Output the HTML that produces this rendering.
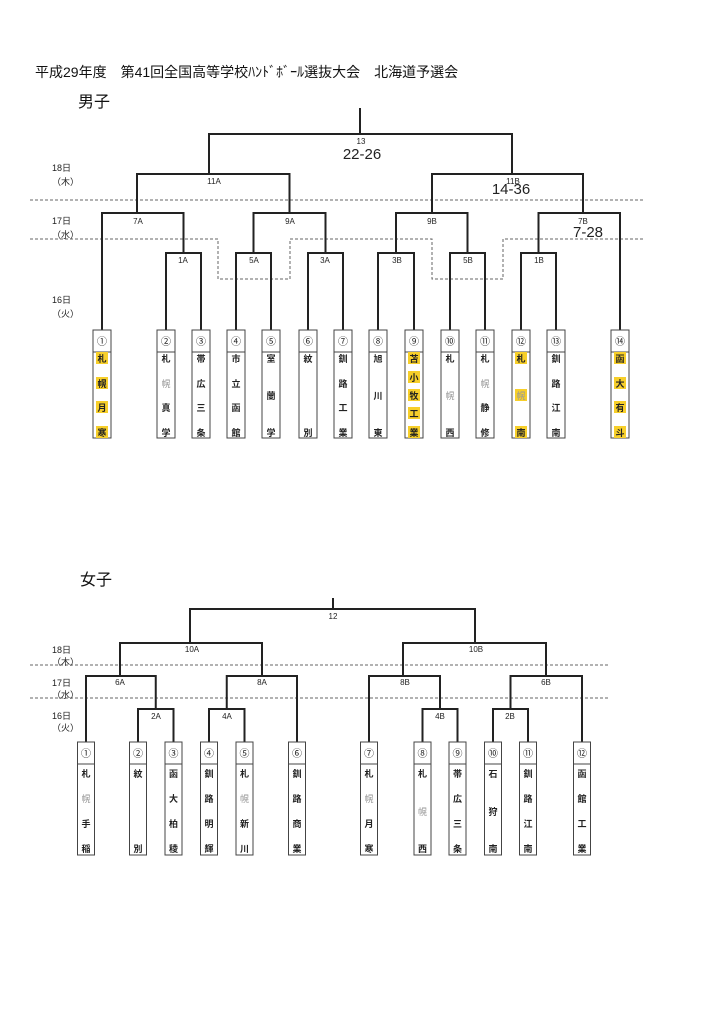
<!DOCTYPE html>
<html><head><meta charset="utf-8"><style>
html,body{margin:0;padding:0;background:#fff;}
svg{display:block;font-family:"Liberation Sans","Noto Sans CJK JP",sans-serif;}
.l{fill:none;stroke:#222;stroke-width:2;}
.d{fill:none;stroke:#666;stroke-width:1;stroke-dasharray:3,2;}
.b{fill:#fff;stroke:#444;stroke-width:1;}
.n{font-size:10px;text-anchor:middle;fill:#222;}
.c{font-size:9px;font-weight:bold;text-anchor:middle;fill:#222;}
.g{fill:#999;font-weight:normal;}
.s{font-size:8px;text-anchor:middle;fill:#222;}
.big{font-size:15px;text-anchor:middle;fill:#222;}
.day{font-size:9px;fill:#222;}
.hl{fill:#f7cf2a;}
</style></head><body>
<svg width="724" height="1024" viewBox="0 0 724 1024">
<text x="35" y="77" font-size="14" fill="#111">平成29年度　第41回全国高等学校ﾊﾝﾄﾞﾎﾞｰﾙ選抜大会　北海道予選会</text>
<text x="78" y="107" font-size="16" fill="#111">男子</text>

<!-- men dashed -->
<path class="d" d="M30 200 H645"/>
<path class="d" d="M30 239 H218 V279 H290 V239 H432 V279 H503 V239 H645"/>

<!-- men brackets -->
<path class="l" d="M166 330 V253 H201 V330"/>
<path class="l" d="M236 330 V253 H271 V330"/>
<path class="l" d="M308 330 V253 H343 V330"/>
<path class="l" d="M378 330 V253 H414 V330"/>
<path class="l" d="M450 330 V253 H485 V330"/>
<path class="l" d="M521 330 V253 H556 V330"/>
<path class="l" d="M102 330 V213 H183.5 V253"/>
<path class="l" d="M253.5 253 V213 H325.5 V253"/>
<path class="l" d="M396 253 V213 H467.5 V253"/>
<path class="l" d="M538.5 253 V213 H620 V330"/>
<path class="l" d="M137 213 V174 H289.5 V213"/>
<path class="l" d="M432 213 V174 H583 V213"/>
<path class="l" d="M209 174 V134 H512 V174"/>
<path class="l" d="M360 134 V108"/>

<text class="s" x="361" y="144">13</text>
<text class="big" x="362" y="159">22-26</text>
<text class="s" x="214" y="184">11A</text>
<text class="s" x="513" y="184">11B</text>
<text class="big" x="511" y="194">14-36</text>
<text class="s" x="138" y="224">7A</text>
<text class="s" x="290" y="224">9A</text>
<text class="s" x="432" y="224">9B</text>
<text class="s" x="583" y="224">7B</text>
<text class="big" x="588" y="237">7-28</text>
<text class="s" x="183" y="263">1A</text>
<text class="s" x="254" y="263">5A</text>
<text class="s" x="325" y="263">3A</text>
<text class="s" x="397" y="263">3B</text>
<text class="s" x="468" y="263">5B</text>
<text class="s" x="539" y="263">1B</text>

<text class="day" x="52" y="171">18日</text><text class="day" x="52" y="185">（木）</text>
<text class="day" x="52" y="224">17日</text><text class="day" x="52" y="238">（水）</text>
<text class="day" x="52" y="303">16日</text><text class="day" x="52" y="317">（火）</text>

<!-- men boxes -->
<g>
<rect class="b" x="93" y="330" width="18" height="108"/><line class="b" x1="93" y1="352" x2="111" y2="352"/><text class="n" x="102" y="345">①</text>
<rect class="hl" x="96" y="352" width="12" height="12"/><rect class="hl" x="96" y="377" width="12" height="12"/><rect class="hl" x="96" y="401" width="12" height="12"/><rect class="hl" x="96" y="426" width="12" height="12"/>
<text class="c" x="102" y="362">札</text><text class="c" x="102" y="387">幌</text><text class="c" x="102" y="411">月</text><text class="c" x="102" y="436">寒</text>

<rect class="b" x="157" y="330" width="18" height="108"/><line class="b" x1="157" y1="352" x2="175" y2="352"/><text class="n" x="166" y="345">②</text>
<text class="c" x="166" y="362">札</text><text class="c g" x="166" y="387">幌</text><text class="c" x="166" y="411">真</text><text class="c" x="166" y="436">学</text>

<rect class="b" x="192" y="330" width="18" height="108"/><line class="b" x1="192" y1="352" x2="210" y2="352"/><text class="n" x="201" y="345">③</text>
<text class="c" x="201" y="362">帯</text><text class="c" x="201" y="387">広</text><text class="c" x="201" y="411">三</text><text class="c" x="201" y="436">条</text>

<rect class="b" x="227" y="330" width="18" height="108"/><line class="b" x1="227" y1="352" x2="245" y2="352"/><text class="n" x="236" y="345">④</text>
<text class="c" x="236" y="362">市</text><text class="c" x="236" y="387">立</text><text class="c" x="236" y="411">函</text><text class="c" x="236" y="436">館</text>

<rect class="b" x="262" y="330" width="18" height="108"/><line class="b" x1="262" y1="352" x2="280" y2="352"/><text class="n" x="271" y="345">⑤</text>
<text class="c" x="271" y="362">室</text><text class="c" x="271" y="399">蘭</text><text class="c" x="271" y="436">学</text>

<rect class="b" x="299" y="330" width="18" height="108"/><line class="b" x1="299" y1="352" x2="317" y2="352"/><text class="n" x="308" y="345">⑥</text>
<text class="c" x="308" y="362">紋</text><text class="c" x="308" y="436">別</text>

<rect class="b" x="334" y="330" width="18" height="108"/><line class="b" x1="334" y1="352" x2="352" y2="352"/><text class="n" x="343" y="345">⑦</text>
<text class="c" x="343" y="362">釧</text><text class="c" x="343" y="387">路</text><text class="c" x="343" y="411">工</text><text class="c" x="343" y="436">業</text>

<rect class="b" x="369" y="330" width="18" height="108"/><line class="b" x1="369" y1="352" x2="387" y2="352"/><text class="n" x="378" y="345">⑧</text>
<text class="c" x="378" y="362">旭</text><text class="c" x="378" y="399">川</text><text class="c" x="378" y="436">東</text>

<rect class="b" x="405" y="330" width="18" height="108"/><line class="b" x1="405" y1="352" x2="423" y2="352"/><text class="n" x="414" y="345">⑨</text>
<rect class="hl" x="408" y="352" width="12" height="12"/><rect class="hl" x="408" y="371" width="12" height="12"/><rect class="hl" x="408" y="389" width="12" height="12"/><rect class="hl" x="408" y="407" width="12" height="12"/><rect class="hl" x="408" y="426" width="12" height="12"/>
<text class="c" x="414" y="362">苫</text><text class="c" x="414" y="381">小</text><text class="c" x="414" y="399">牧</text><text class="c" x="414" y="417">工</text><text class="c" x="414" y="436">業</text>

<rect class="b" x="441" y="330" width="18" height="108"/><line class="b" x1="441" y1="352" x2="459" y2="352"/><text class="n" x="450" y="345">⑩</text>
<text class="c" x="450" y="362">札</text><text class="c g" x="450" y="399">幌</text><text class="c" x="450" y="436">西</text>

<rect class="b" x="476" y="330" width="18" height="108"/><line class="b" x1="476" y1="352" x2="494" y2="352"/><text class="n" x="485" y="345">⑪</text>
<text class="c" x="485" y="362">札</text><text class="c g" x="485" y="387">幌</text><text class="c" x="485" y="411">静</text><text class="c" x="485" y="436">修</text>

<rect class="b" x="512" y="330" width="18" height="108"/><line class="b" x1="512" y1="352" x2="530" y2="352"/><text class="n" x="521" y="345">⑫</text>
<rect class="hl" x="515" y="352" width="12" height="12"/><rect class="hl" x="515" y="389" width="12" height="12"/><rect class="hl" x="515" y="426" width="12" height="12"/>
<text class="c" x="521" y="362">札</text><text class="c g" x="521" y="399">幌</text><text class="c" x="521" y="436">南</text>

<rect class="b" x="547" y="330" width="18" height="108"/><line class="b" x1="547" y1="352" x2="565" y2="352"/><text class="n" x="556" y="345">⑬</text>
<text class="c" x="556" y="362">釧</text><text class="c" x="556" y="387">路</text><text class="c" x="556" y="411">江</text><text class="c" x="556" y="436">南</text>

<rect class="b" x="611" y="330" width="18" height="108"/><line class="b" x1="611" y1="352" x2="629" y2="352"/><text class="n" x="620" y="345">⑭</text>
<rect class="hl" x="614" y="352" width="12" height="12"/><rect class="hl" x="614" y="377" width="12" height="12"/><rect class="hl" x="614" y="401" width="12" height="12"/><rect class="hl" x="614" y="426" width="12" height="12"/>
<text class="c" x="620" y="362">函</text><text class="c" x="620" y="387">大</text><text class="c" x="620" y="411">有</text><text class="c" x="620" y="436">斗</text>
</g>

<!-- women -->
<text x="80" y="585" font-size="16" fill="#111">女子</text>
<path class="d" d="M30 665 H610"/>
<path class="d" d="M30 698 H610"/>

<path class="l" d="M138 742 V709 H173.5 V742"/>
<path class="l" d="M209 742 V709 H244.5 V742"/>
<path class="l" d="M422.5 742 V709 H457.5 V742"/>
<path class="l" d="M493 742 V709 H528 V742"/>
<path class="l" d="M86 742 V676 H155.75 V709"/>
<path class="l" d="M226.75 709 V676 H297 V742"/>
<path class="l" d="M369 742 V676 H440 V709"/>
<path class="l" d="M510.5 709 V676 H582 V742"/>
<path class="l" d="M120 676 V643 H262 V676"/>
<path class="l" d="M403 676 V643 H546 V676"/>
<path class="l" d="M190 643 V609 H475 V643"/>
<path class="l" d="M333 609 V598"/>

<text class="s" x="333" y="619">12</text>
<text class="s" x="192" y="652">10A</text>
<text class="s" x="476" y="652">10B</text>
<text class="s" x="120" y="685">6A</text>
<text class="s" x="262" y="685">8A</text>
<text class="s" x="405" y="685">8B</text>
<text class="s" x="546" y="685">6B</text>
<text class="s" x="156" y="719">2A</text>
<text class="s" x="227" y="719">4A</text>
<text class="s" x="440" y="719">4B</text>
<text class="s" x="510" y="719">2B</text>

<text class="day" x="52" y="653">18日</text><text class="day" x="52" y="665">（木）</text>
<text class="day" x="52" y="686">17日</text><text class="day" x="52" y="698">（水）</text>
<text class="day" x="52" y="719">16日</text><text class="day" x="52" y="731">（火）</text>

<g>
<rect class="b" x="77.5" y="742" width="17" height="113"/><line class="b" x1="77.5" y1="764" x2="94.5" y2="764"/><text class="n" x="86" y="757">①</text>
<text class="c" x="86" y="777">札</text><text class="c g" x="86" y="802">幌</text><text class="c" x="86" y="827">手</text><text class="c" x="86" y="852">稲</text>

<rect class="b" x="129.5" y="742" width="17" height="113"/><line class="b" x1="129.5" y1="764" x2="146.5" y2="764"/><text class="n" x="138" y="757">②</text>
<text class="c" x="138" y="777">紋</text><text class="c" x="138" y="852">別</text>

<rect class="b" x="165" y="742" width="17" height="113"/><line class="b" x1="165" y1="764" x2="182" y2="764"/><text class="n" x="173.5" y="757">③</text>
<text class="c" x="173.5" y="777">函</text><text class="c" x="173.5" y="802">大</text><text class="c" x="173.5" y="827">柏</text><text class="c" x="173.5" y="852">稜</text>

<rect class="b" x="200.5" y="742" width="17" height="113"/><line class="b" x1="200.5" y1="764" x2="217.5" y2="764"/><text class="n" x="209" y="757">④</text>
<text class="c" x="209" y="777">釧</text><text class="c" x="209" y="802">路</text><text class="c" x="209" y="827">明</text><text class="c" x="209" y="852">輝</text>

<rect class="b" x="236" y="742" width="17" height="113"/><line class="b" x1="236" y1="764" x2="253" y2="764"/><text class="n" x="244.5" y="757">⑤</text>
<text class="c" x="244.5" y="777">札</text><text class="c g" x="244.5" y="802">幌</text><text class="c" x="244.5" y="827">新</text><text class="c" x="244.5" y="852">川</text>

<rect class="b" x="288.5" y="742" width="17" height="113"/><line class="b" x1="288.5" y1="764" x2="305.5" y2="764"/><text class="n" x="297" y="757">⑥</text>
<text class="c" x="297" y="777">釧</text><text class="c" x="297" y="802">路</text><text class="c" x="297" y="827">商</text><text class="c" x="297" y="852">業</text>

<rect class="b" x="360.5" y="742" width="17" height="113"/><line class="b" x1="360.5" y1="764" x2="377.5" y2="764"/><text class="n" x="369" y="757">⑦</text>
<text class="c" x="369" y="777">札</text><text class="c g" x="369" y="802">幌</text><text class="c" x="369" y="827">月</text><text class="c" x="369" y="852">寒</text>

<rect class="b" x="414" y="742" width="17" height="113"/><line class="b" x1="414" y1="764" x2="431" y2="764"/><text class="n" x="422.5" y="757">⑧</text>
<text class="c" x="422.5" y="777">札</text><text class="c g" x="422.5" y="815">幌</text><text class="c" x="422.5" y="852">西</text>

<rect class="b" x="449" y="742" width="17" height="113"/><line class="b" x1="449" y1="764" x2="466" y2="764"/><text class="n" x="457.5" y="757">⑨</text>
<text class="c" x="457.5" y="777">帯</text><text class="c" x="457.5" y="802">広</text><text class="c" x="457.5" y="827">三</text><text class="c" x="457.5" y="852">条</text>

<rect class="b" x="484.5" y="742" width="17" height="113"/><line class="b" x1="484.5" y1="764" x2="501.5" y2="764"/><text class="n" x="493" y="757">⑩</text>
<text class="c" x="493" y="777">石</text><text class="c" x="493" y="815">狩</text><text class="c" x="493" y="852">南</text>

<rect class="b" x="519.5" y="742" width="17" height="113"/><line class="b" x1="519.5" y1="764" x2="536.5" y2="764"/><text class="n" x="528" y="757">⑪</text>
<text class="c" x="528" y="777">釧</text><text class="c" x="528" y="802">路</text><text class="c" x="528" y="827">江</text><text class="c" x="528" y="852">南</text>

<rect class="b" x="573.5" y="742" width="17" height="113"/><line class="b" x1="573.5" y1="764" x2="590.5" y2="764"/><text class="n" x="582" y="757">⑫</text>
<text class="c" x="582" y="777">函</text><text class="c" x="582" y="802">館</text><text class="c" x="582" y="827">工</text><text class="c" x="582" y="852">業</text>
</g>
</svg>
</body></html>
